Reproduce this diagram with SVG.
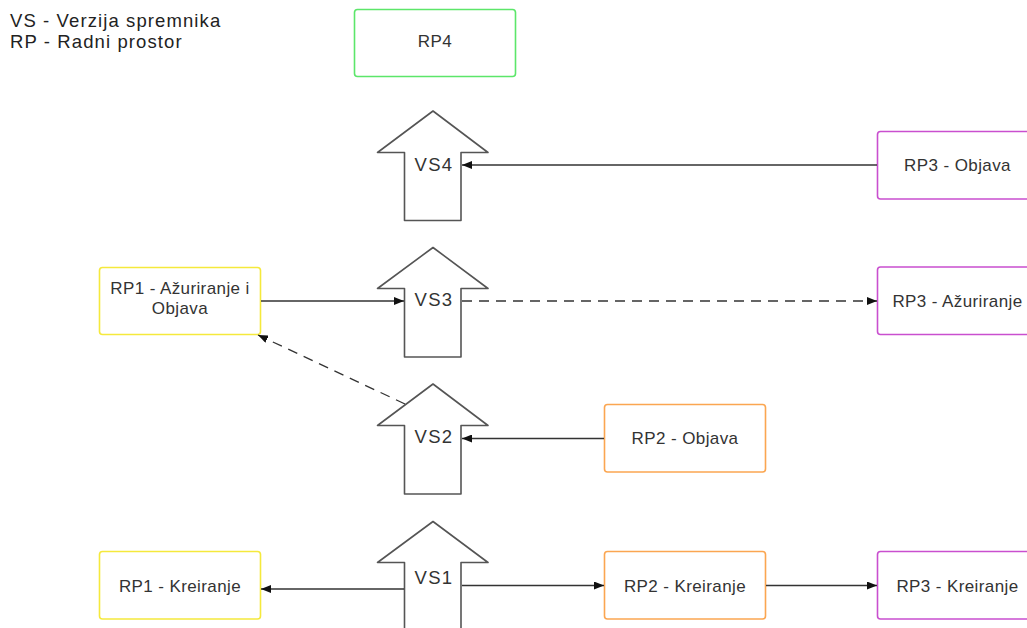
<svg xmlns="http://www.w3.org/2000/svg" width="1027" height="628" viewBox="0 0 1027 628">
<defs>
<marker id="ah" viewBox="0 0 10 8" refX="10" refY="4" markerWidth="10" markerHeight="8" markerUnits="userSpaceOnUse" orient="auto">
<path d="M0,0 L10,4 L0,8 Z" fill="#111"/>
</marker>
</defs>
<style>
.box{fill:#fff;stroke-width:1.6}
.y{stroke:#f5e93c}
.o{stroke:#fba651}
.m{stroke:#c94fcf}
.g{stroke:#5ce66a}
.t{font-family:"Liberation Sans",Arial,sans-serif;font-size:17px;fill:#333;text-anchor:middle;letter-spacing:0.4px}
.vs{fill:#fff;stroke:#555;stroke-width:1.6;stroke-linejoin:round}
.vt{font-family:"Liberation Sans",Arial,sans-serif;font-size:18.5px;fill:#333;text-anchor:middle;letter-spacing:1.3px}
.lg{font-family:"Liberation Sans",Arial,sans-serif;font-size:18.5px;fill:#222;letter-spacing:1.1px}
.c{fill:none;stroke:#333;stroke-width:1.3}
.d{stroke-dasharray:10 7}
</style>
<rect width="1027" height="628" fill="#fff"/>
<g id="legend">
<text class="lg" x="10" y="27">VS - Verzija spremnika</text>
<text class="lg" x="10" y="48">RP - Radni prostor</text>
</g>
<g id="RP4"><rect class="box g" x="354.5" y="9.5" width="161" height="67" rx="3"/><text class="t" x="435" y="47">RP4</text></g>
<g id="VS4"><path class="vs" d="M404.5,220.5 L404.5,152.5 L377.5,152.5 L433,111 L488,152.5 L461,152.5 L461,220.5 Z"/><text class="vt" x="434" y="170.5">VS4</text></g>
<g id="VS3"><path class="vs" d="M404.5,357 L404.5,288.5 L377.5,288.5 L433,247.5 L488,288.5 L461,288.5 L461,357 Z"/><text class="vt" x="434" y="306">VS3</text></g>
<g id="VS2"><path class="vs" d="M404.5,494 L404.5,425.5 L377.5,425.5 L433,384 L488,425.5 L461,425.5 L461,494 Z"/><text class="vt" x="434" y="443">VS2</text></g>
<g id="VS1"><path class="vs" d="M404.5,640 L404.5,562.5 L377.5,562.5 L433,521.5 L488,562.5 L461,562.5 L461,640 Z"/><text class="vt" x="434" y="584">VS1</text></g>
<g id="RP3-Objava"><rect class="box m" x="877.5" y="131.5" width="161" height="67.5" rx="3"/><text class="t" x="957.5" y="171">RP3 - Objava</text></g>
<g id="RP1-Azuriranje"><rect class="box y" x="99.5" y="267.5" width="161" height="67" rx="3"/><text class="t" x="180" y="293.5">RP1 - Ažuriranje i</text><text class="t" x="180" y="314">Objava</text></g>
<g id="RP3-Azuriranje"><rect class="box m" x="877.5" y="267" width="161" height="67.5" rx="3"/><text class="t" x="957.5" y="306.5">RP3 - Ažuriranje</text></g>
<g id="RP2-Objava"><rect class="box o" x="604.5" y="404.5" width="161" height="67.5" rx="3"/><text class="t" x="685" y="444">RP2 - Objava</text></g>
<g id="RP1-Kreiranje"><rect class="box y" x="99.5" y="551.5" width="161" height="67.5" rx="3"/><text class="t" x="180" y="591.5">RP1 - Kreiranje</text></g>
<g id="RP2-Kreiranje"><rect class="box o" x="604.5" y="551.5" width="161" height="67.5" rx="3"/><text class="t" x="685" y="591.5">RP2 - Kreiranje</text></g>
<g id="RP3-Kreiranje"><rect class="box m" x="877.5" y="551.5" width="161" height="67.5" rx="3"/><text class="t" x="957.5" y="591.5">RP3 - Kreiranje</text></g>
<g id="connectors">
<line class="c" x1="877" y1="165" x2="462" y2="165" marker-end="url(#ah)"/>
<line class="c" x1="261" y1="301" x2="404" y2="301" marker-end="url(#ah)"/>
<line class="c d" x1="462" y1="301" x2="877" y2="301" marker-end="url(#ah)"/>
<line class="c d" x1="405" y1="404" x2="258" y2="335" marker-end="url(#ah)"/>
<line class="c" x1="604" y1="438.5" x2="462" y2="438.5" marker-end="url(#ah)"/>
<line class="c" x1="404" y1="589" x2="261" y2="589" marker-end="url(#ah)"/>
<line class="c" x1="462" y1="585.5" x2="604" y2="585.5" marker-end="url(#ah)"/>
<line class="c" x1="766" y1="585.5" x2="877" y2="585.5" marker-end="url(#ah)"/>
</g>
</svg>
